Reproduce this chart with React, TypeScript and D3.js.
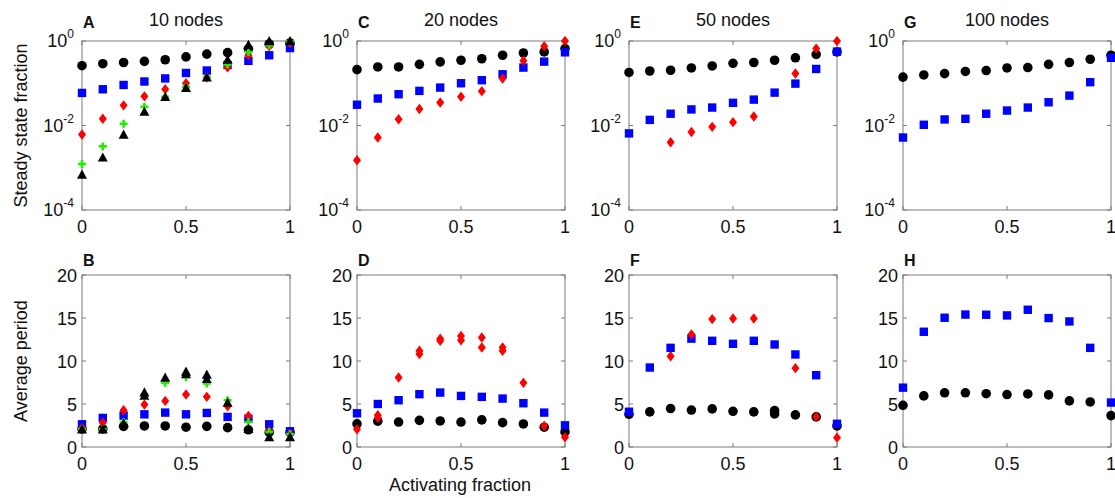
import React from "react";
import * as d3 from "d3";

const W = 1115;
const H = 498;

const xs = [0, 0.1, 0.2, 0.3, 0.4, 0.5, 0.6, 0.7, 0.8, 0.9, 1];
const xTicks = [0, 0.5, 1];
const xTickLabels = ["0", "0.5", "1"];
const logTicks = [1e-4, 1e-2, 1];
const logTickExp = ["-4", "-2", "0"];
const linTicks = [0, 5, 10, 15, 20];

const titles = ["10 nodes", "20 nodes", "50 nodes", "100 nodes"];
const topLetters = ["A", "C", "E", "G"];
const bottomLetters = ["B", "D", "F", "H"];

type V = (number | null)[];

// Steady state fraction (top row)
const A_black: V = [0.26, 0.29, 0.31, 0.33, 0.36, 0.42, 0.49, 0.53, 0.65, 0.85, 0.9];
const A_blue: V = [0.059, 0.072, 0.091, 0.11, 0.13, 0.175, 0.2, 0.27, 0.34, 0.46, 0.68];
const A_red: V = [0.0061, 0.0144, 0.03, 0.049, 0.072, 0.1, 0.136, 0.24, 0.46, 0.75, 0.9];
const A_green: V = [0.00123, 0.0032, 0.011, 0.0277, 0.048, 0.082, 0.14, 0.28, 0.55, 0.79, 0.97];
const A_tri: V = [0.00067, 0.0017, 0.0059, 0.0206, 0.046, 0.076, 0.134, 0.35, 0.79, 0.97, 0.97];

const C_black: V = [0.21, 0.243, 0.243, 0.28, 0.32, 0.35, 0.38, 0.46, 0.52, 0.55, 0.66];
const C_blue: V = [0.031, 0.0435, 0.055, 0.066, 0.079, 0.1, 0.118, 0.163, 0.235, 0.325, 0.54];
const C_red: V = [0.0015, 0.0052, 0.0141, 0.0246, 0.035, 0.048, 0.065, 0.13, 0.34, 0.75, 1.0];

const E_black: V = [0.18, 0.195, 0.203, 0.23, 0.257, 0.297, 0.31, 0.35, 0.4, 0.48, 0.55];
const E_blue: V = [0.0065, 0.0136, 0.019, 0.024, 0.0266, 0.0344, 0.041, 0.06, 0.098, 0.218, 0.56];
const E_red: V = [null, null, 0.004, 0.007, 0.0093, 0.012, 0.0163, null, 0.17, 0.66, 1.0];

const G_black: V = [0.14, 0.157, 0.169, 0.19, 0.2, 0.23, 0.235, 0.28, 0.31, 0.37, 0.46];
const G_blue: V = [0.0052, 0.0104, 0.0139, 0.0144, 0.019, 0.0226, 0.0266, 0.0355, 0.051, 0.106, 0.4];

// Average period (bottom row)
const B_black: V = [2.1, 2.1, 2.4, 2.45, 2.45, 2.3, 2.4, 2.25, 2.0, 1.7, 1.7];
const B_blue: V = [2.64, 3.38, 3.65, 3.8, 4.0, 3.8, 3.96, 3.5, 3.3, 2.64, 1.83];
const B_red: V = [2.2, 2.83, 4.27, 4.93, 5.36, 6.1, 5.83, 4.74, 3.6, 1.83, 1.55];
const B_green: V = [2.1, 2.1, 2.9, 6.1, 7.46, 8.15, 7.38, 5.44, 2.9, 1.75, 1.48];
const B_tri: V = [2.0, 2.0, 2.7, 6.3, 8.0, 8.7, 8.35, 5.1, 2.05, 1.1, 1.1];
const B_tri2: V = [null, null, null, 5.9, null, 8.4, 7.85, null, null, null, null];

const D_black: V = [2.7, 3.0, 2.9, 3.1, 3.03, 2.9, 3.15, 2.83, 2.68, 2.3, 1.75];
const D_blue: V = [3.92, 5.0, 5.44, 6.14, 6.33, 5.94, 5.83, 5.63, 5.09, 4.0, 2.52];
const D_red: V = [2.06, 3.7, 8.08, 11.2, 12.6, 12.9, 12.74, 11.57, 7.46, 2.45, 1.13];
const D_red2: V = [null, 3.4, null, 10.8, 12.35, 12.4, 11.57, 11.18, null, null, null];

const F_black: V = [3.8, 4.08, 4.47, 4.3, 4.43, 4.15, 4.08, 4.23, 3.73, 3.5, 2.45];
const F_black2: V = [null, null, null, null, null, null, null, 3.84, null, null, null];
const F_blue: V = [4.1, 9.24, 11.53, 12.6, 12.35, 12.0, 12.35, 11.92, 10.76, 8.35, 2.7];
const F_red: V = [null, null, 10.56, 13.1, 14.87, 14.95, 14.95, null, 9.17, 3.5, 1.09];

const H_black: V = [4.85, 5.94, 6.3, 6.3, 6.2, 6.1, 6.17, 6.06, 5.36, 5.24, 3.65];
const H_blue: V = [6.9, 13.4, 15.03, 15.4, 15.38, 15.3, 15.96, 14.99, 14.6, 11.53, 5.17];

type Kind = "circle" | "square" | "diamond" | "plus" | "triangle";
type Series = { kind: Kind; values: V };

const topSeries: Series[][] = [
  [
    { kind: "circle", values: A_black },
    { kind: "square", values: A_blue },
    { kind: "diamond", values: A_red },
    { kind: "plus", values: A_green },
    { kind: "triangle", values: A_tri },
  ],
  [
    { kind: "circle", values: C_black },
    { kind: "square", values: C_blue },
    { kind: "diamond", values: C_red },
  ],
  [
    { kind: "circle", values: E_black },
    { kind: "square", values: E_blue },
    { kind: "diamond", values: E_red },
  ],
  [
    { kind: "circle", values: G_black },
    { kind: "square", values: G_blue },
  ],
];

const bottomSeries: Series[][] = [
  [
    { kind: "circle", values: B_black },
    { kind: "square", values: B_blue },
    { kind: "diamond", values: B_red },
    { kind: "plus", values: B_green },
    { kind: "triangle", values: B_tri2 },
    { kind: "triangle", values: B_tri },
  ],
  [
    { kind: "circle", values: D_black },
    { kind: "square", values: D_blue },
    { kind: "diamond", values: D_red2 },
    { kind: "diamond", values: D_red },
  ],
  [
    { kind: "circle", values: F_black2 },
    { kind: "circle", values: F_black },
    { kind: "square", values: F_blue },
    { kind: "diamond", values: F_red },
  ],
  [
    { kind: "circle", values: H_black },
    { kind: "square", values: H_blue },
  ],
];

const COLORS: Record<Kind, string> = {
  circle: "#000000",
  square: "#0000ff",
  diamond: "#ff0000",
  plus: "#22ee00",
  triangle: "#000000",
};

const panelLefts = [82, 357, 629, 903];
const panelWidth = 208;
const topRow = { y0: 41, y1: 210 };
const botRow = { y0: 275, y1: 447 };
const FONT = "'Liberation Sans', Arial, Helvetica, sans-serif";
const BOX = "#7a7a7a";

function Marker({ kind, x, y }: { kind: Kind; x: number; y: number }) {
  const c = COLORS[kind];
  if (kind === "circle") return <circle cx={x} cy={y} r={4.8} fill={c} />;
  if (kind === "square") return <rect x={x - 4.2} y={y - 4.2} width={8.4} height={8.4} fill={c} />;
  if (kind === "diamond")
    return <path d={`M${x},${y - 5.2}L${x + 4},${y}L${x},${y + 5.2}L${x - 4},${y}Z`} fill={c} />;
  if (kind === "triangle")
    return <path d={`M${x},${y - 5.6}L${x + 5},${y + 3.6}L${x - 5},${y + 3.6}Z`} fill={c} />;
  return (
    <path
      d={`M${x - 4},${y}H${x + 4}M${x},${y - 4}V${y + 4}`}
      stroke={c}
      strokeWidth={2.6}
      fill="none"
    />
  );
}

function Panel({
  left,
  row,
  log,
  series,
  letter,
  title,
}: {
  left: number;
  row: { y0: number; y1: number };
  log: boolean;
  series: Series[];
  letter: string;
  title?: string;
}) {
  const x = d3.scaleLinear().domain([0, 1]).range([left, left + panelWidth]);
  const y = log
    ? d3.scaleLog().domain([1e-4, 1]).range([row.y1, row.y0])
    : d3.scaleLinear().domain([0, 20]).range([row.y1, row.y0]);
  const yTicks = log ? logTicks : linTicks;
  const tl = 4;
  const right = left + panelWidth;
  return (
    <g>
      <rect
        x={left}
        y={row.y0}
        width={panelWidth}
        height={row.y1 - row.y0}
        fill="#fff"
        stroke={BOX}
        strokeWidth={1}
      />
      {xTicks.map((t, i) => (
        <g key={"xt" + i}>
          <line x1={x(t)} x2={x(t)} y1={row.y1} y2={row.y1 - tl} stroke={BOX} />
          <line x1={x(t)} x2={x(t)} y1={row.y0} y2={row.y0 + tl} stroke={BOX} />
          <text
            x={x(t)}
            y={row.y1 + 23}
            textAnchor="middle"
            fontFamily={FONT}
            fontSize={18}
            fill="#111"
          >
            {xTickLabels[i]}
          </text>
        </g>
      ))}
      {yTicks.map((t, i) => (
        <g key={"yt" + i}>
          <line x1={left} x2={left + tl} y1={y(t)} y2={y(t)} stroke={BOX} />
          <line x1={right} x2={right - tl} y1={y(t)} y2={y(t)} stroke={BOX} />
          {log ? (
            <text
              x={left - 8}
              y={y(t) + 6}
              textAnchor="end"
              fontFamily={FONT}
              fontSize={18}
              fill="#111"
            >
              10
              <tspan fontSize={12} dy={-9}>
                {logTickExp[i]}
              </tspan>
            </text>
          ) : (
            <text
              x={left - 5}
              y={y(t) + 6.5}
              textAnchor="end"
              fontFamily={FONT}
              fontSize={18}
              fill="#111"
            >
              {String(t)}
            </text>
          )}
        </g>
      ))}
      {series.map((s, si) =>
        s.values.map((v, i) =>
          v === null ? null : <Marker key={si + "-" + i} kind={s.kind} x={x(xs[i])} y={y(v)} />
        )
      )}
      <text
        x={left + 1}
        y={row.y0 - (log ? 13 : 9)}
        fontFamily={FONT}
        fontWeight="bold"
        fontSize={16}
        fill="#111"
      >
        {letter}
      </text>
      {title ? (
        <text
          x={left + panelWidth / 2}
          y={26}
          textAnchor="middle"
          fontFamily={FONT}
          fontSize={18}
          fill="#111"
        >
          {title}
        </text>
      ) : null}
    </g>
  );
}

export default function App() {
  return (
    <svg
      width={W}
      height={H}
      viewBox={`0 0 ${W} ${H}`}
      style={{ position: "absolute", left: 0, top: 0, background: "#fff" }}
    >
      <rect x={0} y={0} width={W} height={H} fill="#fff" />
      {panelLefts.map((l, i) => (
        <Panel
          key={"t" + i}
          left={l}
          row={topRow}
          log={true}
          series={topSeries[i]}
          letter={topLetters[i]}
          title={titles[i]}
        />
      ))}
      {panelLefts.map((l, i) => (
        <Panel
          key={"b" + i}
          left={l}
          row={botRow}
          log={false}
          series={bottomSeries[i]}
          letter={bottomLetters[i]}
        />
      ))}
      <text
        transform={`translate(27,${(topRow.y0 + topRow.y1) / 2}) rotate(-90)`}
        textAnchor="middle"
        fontFamily={FONT}
        fontSize={18}
        fill="#111"
      >
        Steady state fraction
      </text>
      <text
        transform={`translate(27,${(botRow.y0 + botRow.y1) / 2}) rotate(-90)`}
        textAnchor="middle"
        fontFamily={FONT}
        fontSize={18}
        fill="#111"
      >
        Average period
      </text>
      <text x={460} y={491} textAnchor="middle" fontFamily={FONT} fontSize={18} fill="#111">
        Activating fraction
      </text>
    </svg>
  );
}
